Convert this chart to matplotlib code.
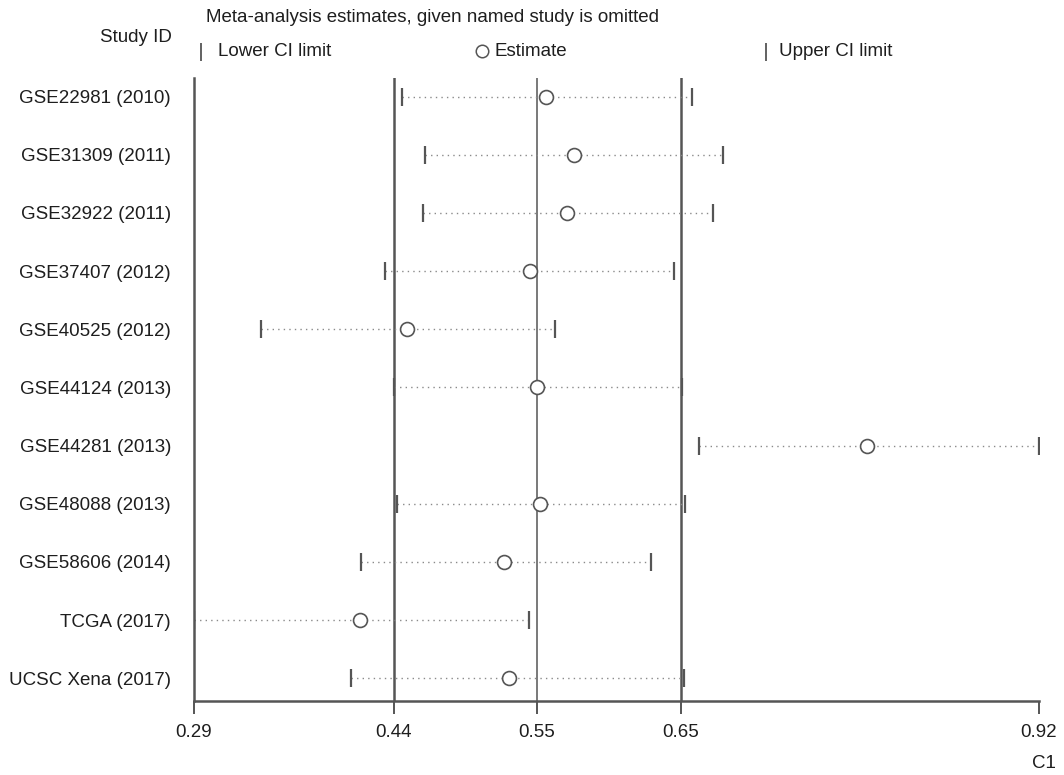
import matplotlib
matplotlib.use("Agg")
import matplotlib.pyplot as plt
from matplotlib.lines import Line2D

plt.rcParams['font.family'] = ['Liberation Sans', 'DejaVu Sans']

studies = ["GSE22981 (2010)", "GSE31309 (2011)", "GSE32922 (2011)", "GSE37407 (2012)",
           "GSE40525 (2012)", "GSE44124 (2013)", "GSE44281 (2013)", "GSE48088 (2013)",
           "GSE58606 (2014)", "TCGA (2017)", "UCSC Xena (2017)"]
estimate = [0.5528, 0.5731, 0.5683, 0.5403, 0.4487, 0.5456, 0.7920, 0.5483, 0.5214, 0.4136, 0.5251]
lower_ci = [0.4450, 0.4623, 0.4607, 0.4327, 0.3401, 0.4391, 0.6665, 0.4416, 0.4144, 0.2900, 0.4069]
upper_ci = [0.6615, 0.6847, 0.6769, 0.6479, 0.5590, 0.6535, 0.9200, 0.6558, 0.6306, 0.5398, 0.6555]
overall_lower = 0.4391
overall_est = 0.5457
overall_upper = 0.6531
axis_min = 0.2900
axis_max = 0.9200

W, H = 1064, 775
FS = 13.5
txt = '#1e1e1e'
fig = plt.figure(figsize=(W / 100, H / 100), dpi=100)
ax = fig.add_axes([194 / W, 1 - 701 / H, (1039 - 194) / W, (701 - 78) / H])

grey = '#555555'
dotc = '#8a8a8a'
n = len(studies)
rows = list(range(n))

for v, lw in [(overall_lower, 1.8), (overall_est, 1.1), (overall_upper, 1.8)]:
    ax.axvline(v, color=grey, lw=lw, zorder=1)

for i in rows:
    ax.plot([lower_ci[i], upper_ci[i]], [i, i], ls=(0, (1, 3)), color=dotc, lw=1.0, zorder=2)
ax.plot(lower_ci, rows, ls='none', marker='|', ms=13, mew=1.6, color=grey, zorder=3)
ax.plot(upper_ci, rows, ls='none', marker='|', ms=13, mew=1.6, color=grey, zorder=3)
ax.plot(estimate, rows, ls='none', marker='o', ms=10, mfc='white', mec=grey, mew=1.2, zorder=4)

ax.set_xlim(axis_min, axis_max)
ax.set_ylim(10.39, -0.32)
ax.set_yticks(rows)
ax.set_yticklabels(studies, fontsize=FS, color=txt)
ax.tick_params(axis='y', length=0, pad=16.5)
xt = [axis_min, overall_lower, overall_est, overall_upper, axis_max]
ax.set_xticks(xt)
ax.set_xticklabels([f"{v:.2f}" for v in xt], fontsize=FS, color=txt)
ax.tick_params(axis='x', direction='out', length=9, width=1.4, color=grey, pad=7.5)
for s in ['top', 'right']:
    ax.spines[s].set_visible(False)
ax.spines['left'].set_color(grey)
ax.spines['left'].set_linewidth(1.8)
ax.spines['bottom'].set_color(grey)
ax.spines['bottom'].set_linewidth(1.8)

fig.text(1056 / W, 1 - 763 / H, "C1", ha='right', va='center', fontsize=FS, color=txt)
fig.text(136 / W, 1 - 37 / H, "Study ID", ha='center', va='center', fontsize=FS, color=txt)
fig.text(206 / W, 1 - 18 / H, "Meta-analysis estimates, given named study is omitted",
         ha='left', va='center', fontsize=FS, color=txt)

fig.add_artist(Line2D([201 / W], [1 - 52 / H], marker='|', ms=13, mew=1.3, color=grey, transform=fig.transFigure))
fig.text(218 / W, 1 - 51 / H, "Lower CI limit", ha='left', va='center', fontsize=FS, color=txt)
fig.add_artist(Line2D([482 / W], [1 - 51 / H], marker='o', ms=9, mfc='white', mec=grey, mew=1.1,
                      transform=fig.transFigure))
fig.text(494 / W, 1 - 51 / H, "Estimate", ha='left', va='center', fontsize=FS, color=txt)
fig.add_artist(Line2D([766 / W], [1 - 52 / H], marker='|', ms=13, mew=1.3, color=grey, transform=fig.transFigure))
fig.text(779 / W, 1 - 51 / H, "Upper CI limit", ha='left', va='center', fontsize=FS, color=txt)

fig.savefig("out.png", dpi=100)
